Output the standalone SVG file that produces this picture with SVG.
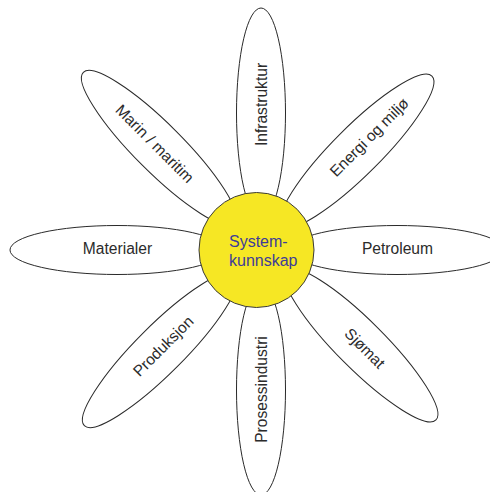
<svg xmlns="http://www.w3.org/2000/svg" width="490" height="492" viewBox="0 0 490 492">
<style>
.petal{fill:#ffffff;stroke:#2a2a2a;stroke-width:1}
.lbl{font-family:"Liberation Sans",Arial,sans-serif;font-size:15.6px;fill:#2b2b2b;text-anchor:middle}
.hub{fill:#f6e724;stroke:#3a3a3a;stroke-width:1}
.hubt{font-family:"Liberation Sans",Arial,sans-serif;font-size:16px;fill:#3e3c98}
</style>
<rect width="490" height="492" fill="#ffffff"/>
<g id="infrastruktur">
<ellipse class="petal" cx="261" cy="113" rx="24.5" ry="105"/>
<text class="lbl" transform="translate(266.5,104.5) rotate(-90)">Infrastruktur</text>
</g>
<g id="prosessindustri">
<ellipse class="petal" cx="261" cy="390" rx="24.5" ry="105"/>
<text class="lbl" transform="translate(266.5,389.5) rotate(-90)">Prosessindustri</text>
</g>
<g id="materialer">
<ellipse class="petal" cx="117" cy="250" rx="107" ry="24.5"/>
<text class="lbl" x="117.5" y="253.5">Materialer</text>
</g>
<g id="petroleum">
<ellipse class="petal" cx="397" cy="250" rx="107" ry="24.5"/>
<text class="lbl" x="397.5" y="254">Petroleum</text>
</g>
<g id="marin">
<ellipse class="petal" cx="0" cy="0" rx="24" ry="107" transform="translate(159,148) rotate(-45)"/>
<text class="lbl" transform="translate(151,147.5) rotate(45)">Marin / maritim</text>
</g>
<g id="energi">
<ellipse class="petal" cx="0" cy="0" rx="24" ry="106" transform="translate(357,151) rotate(45)"/>
<text class="lbl" transform="translate(373,141) rotate(-45)">Energi og miljø</text>
</g>
<g id="produksjon">
<ellipse class="petal" cx="0" cy="0" rx="24" ry="107" transform="translate(160,350) rotate(45)"/>
<text class="lbl" transform="translate(167,350) rotate(-45)">Produksjon</text>
</g>
<g id="sjomat">
<ellipse class="petal" cx="0" cy="0" rx="24" ry="106" transform="translate(361,345) rotate(-45)"/>
<text class="lbl" transform="translate(361,352) rotate(45)">Sjømat</text>
</g>
<g id="systemkunnskap">
<circle class="hub" cx="256.5" cy="250" r="57.5"/>
<text class="hubt" x="229" y="246.7">System-</text>
<text class="hubt" x="229" y="265.5">kunnskap</text>
</g>
<g id="connectors"></g>
</svg>
